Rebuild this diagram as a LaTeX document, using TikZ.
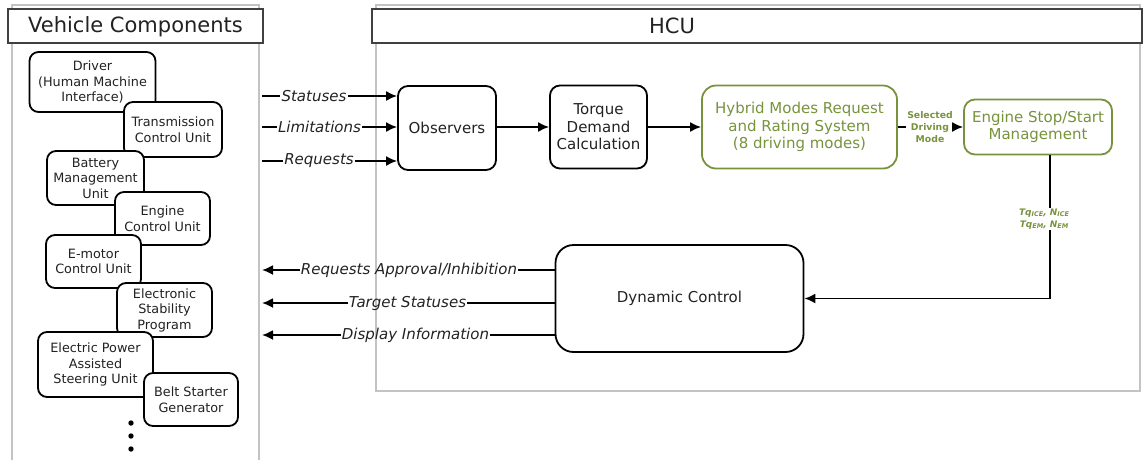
\documentclass[tikz,border=0pt]{standalone}
\usepackage{fontspec}
\setmainfont{DejaVu Sans}
\usetikzlibrary{arrows.meta}
\definecolor{hgreen}{RGB}{119,147,60}
\definecolor{panelgray}{RGB}{195,195,195}
\definecolor{titlegray}{RGB}{64,64,64}
\definecolor{txt}{RGB}{34,34,34}
\begin{document}
\begin{tikzpicture}[x=1pt,y=-1pt,
  comp/.style={draw, line width=1.8pt, rounded corners=9pt, fill=white, align=center, inner sep=0pt, text=txt, font=\fontsize{12.8}{15.5}\selectfont},
  blk/.style={draw, line width=1.8pt, rounded corners=10pt, fill=white, align=center, inner sep=0pt, text=txt, font=\fontsize{15}{17.5}\selectfont},
  gblk/.style={blk, draw=hgreen, text=hgreen, rounded corners=14pt},
  lab/.style={font=\fontsize{15}{17}\selectfont\itshape, text=txt, inner sep=1pt},
  glab/.style={font=\fontsize{9.3}{12}\selectfont\bfseries, text=hgreen, align=center, inner sep=1pt},
  arr/.style={line width=1.8pt, -{Latex[length=11pt,width=10pt]}},
  ln/.style={line width=1.8pt},
  panel/.style={draw=panelgray, line width=2.5pt},
  titlebox/.style={draw=titlegray, line width=2.2pt, fill=white, minimum height=34pt, inner sep=0pt}
]
\useasboundingbox (0,0) rectangle (1144,459);
% panels
\draw[panel] (12,470) -- (12,5) -- (259,5) -- (259,470);
\draw[panel] (376,5) rectangle (1140,391);
\node[titlebox, minimum width=255pt] (vctitle) at (135.5,26) {};
\node[anchor=base, text=txt] (vctext) at (135.5,32) {\fontsize{21}{24}\selectfont Vehicle Components};
\node[titlebox, minimum width=770pt] (hcutitle) at (757,26) {};
\node[anchor=base, text=txt] (hcutext) at (672,33) {\fontsize{21}{24}\selectfont HCU};
% vehicle components
\node[comp, minimum width=126pt, minimum height=60pt] (drv) at (92.5,82) {Driver\\(Human Machine\\Interface)};
\node[comp, minimum width=98pt, minimum height=55pt] (tcu) at (173,129.5) {Transmission\\Control Unit};
\node[comp, minimum width=97pt, minimum height=54pt] (bmu) at (95.5,178) {Battery\\Management\\Unit};
\node[comp, minimum width=95pt, minimum height=53pt] (ecu) at (162.5,218.5) {Engine\\Control Unit};
\node[comp, minimum width=95pt, minimum height=53pt] (emcu) at (93.5,261.5) {E-motor\\Control Unit};
\node[comp, minimum width=95pt, minimum height=54pt] (esp) at (164.5,310) {Electronic\\Stability\\Program};
\node[comp, minimum width=115pt, minimum height=65pt] (epas) at (95.5,364.5) {Electric Power\\Assisted\\Steering Unit};
\node[comp, minimum width=94pt, minimum height=53pt] (bsg) at (191,399.5) {Belt Starter\\Generator};
\fill (131,423) circle (2.7pt) (131,436) circle (2.7pt) (131,449) circle (2.7pt);
% HCU blocks
\node[blk, minimum width=98pt, minimum height=84pt] (obs) at (447,128) {Observers};
\node[blk, minimum width=97pt, minimum height=83pt] (tor) at (598.5,127) {Torque\\Demand\\Calculation};
\node[gblk, minimum width=195pt, minimum height=83pt] (hyb) at (799.5,127) {Hybrid Modes Request\\and Rating System\\(8 driving modes)};
\node[gblk, minimum width=148pt, minimum height=55pt, rounded corners=11pt] (ess) at (1038,127) {Engine Stop/Start\\Management};
\node[blk, minimum width=248pt, minimum height=107pt, rounded corners=18pt] (dyn) at (679.5,298.5) {Dynamic Control};
% incoming
\coordinate (i1) at (262,96);
\coordinate (i2) at (262,127);
\coordinate (i3) at (262,161);
\node[lab] (s1) at (314,96) {Statuses};
\node[lab] (s2) at (319.5,127) {Limitations};
\node[lab] (s3) at (319,161) {Requests};
\draw[ln] (i1) -- (s1.west);
\draw[ln] (i2) -- (s2.west);
\draw[ln] (i3) -- (s3.west);
\draw[arr] (s1.east) -- (obs.west |- s1);
\draw[arr] (s2.east) -- (obs.west |- s2);
\draw[arr] (s3.east) -- (obs.west |- s3);
% chain
\draw[arr] (obs.east |- tor) -- (tor.west);
\draw[arr] (tor.east) -- (hyb.west);
\node[glab] (sel) at (930,127) {Selected\\Driving\\Mode};
\draw[ln] (hyb.east) -- (sel.west);
\draw[arr] (sel.east) -- (ess.west);
\coordinate (vline) at (1050,0);
\node[glab, font=\fontsize{9}{11.5}\selectfont\bfseries\itshape] (tq) at (1044,219) {Tq\raisebox{-0.2ex}{\fontsize{6.5}{7}\selectfont ICE}, N\raisebox{-0.2ex}{\fontsize{6.5}{7}\selectfont ICE}\\Tq\raisebox{-0.2ex}{\fontsize{6.5}{7}\selectfont EM}, N\raisebox{-0.2ex}{\fontsize{6.5}{7}\selectfont EM}};
\draw[ln] (ess.south -| vline) -- (tq.north -| vline);
\draw[arr] (tq.south -| vline) |- (dyn.east);
% outgoing
\coordinate (o1) at (262,270);
\coordinate (o2) at (262,303);
\coordinate (o3) at (262,335);
\node[lab] (r1) at (409,270) {Requests Approval/Inhibition};
\node[lab] (r2) at (407.5,303) {Target Statuses};
\node[lab] (r3) at (415.5,335) {Display Information};
\draw[ln] (dyn.west |- r1) -- (r1.east);
\draw[ln] (dyn.west |- r2) -- (r2.east);
\draw[ln] (dyn.west |- r3) -- (r3.east);
\draw[arr] (r1.west) -- (o1);
\draw[arr] (r2.west) -- (o2);
\draw[arr] (r3.west) -- (o3);
\end{tikzpicture}
\end{document}
